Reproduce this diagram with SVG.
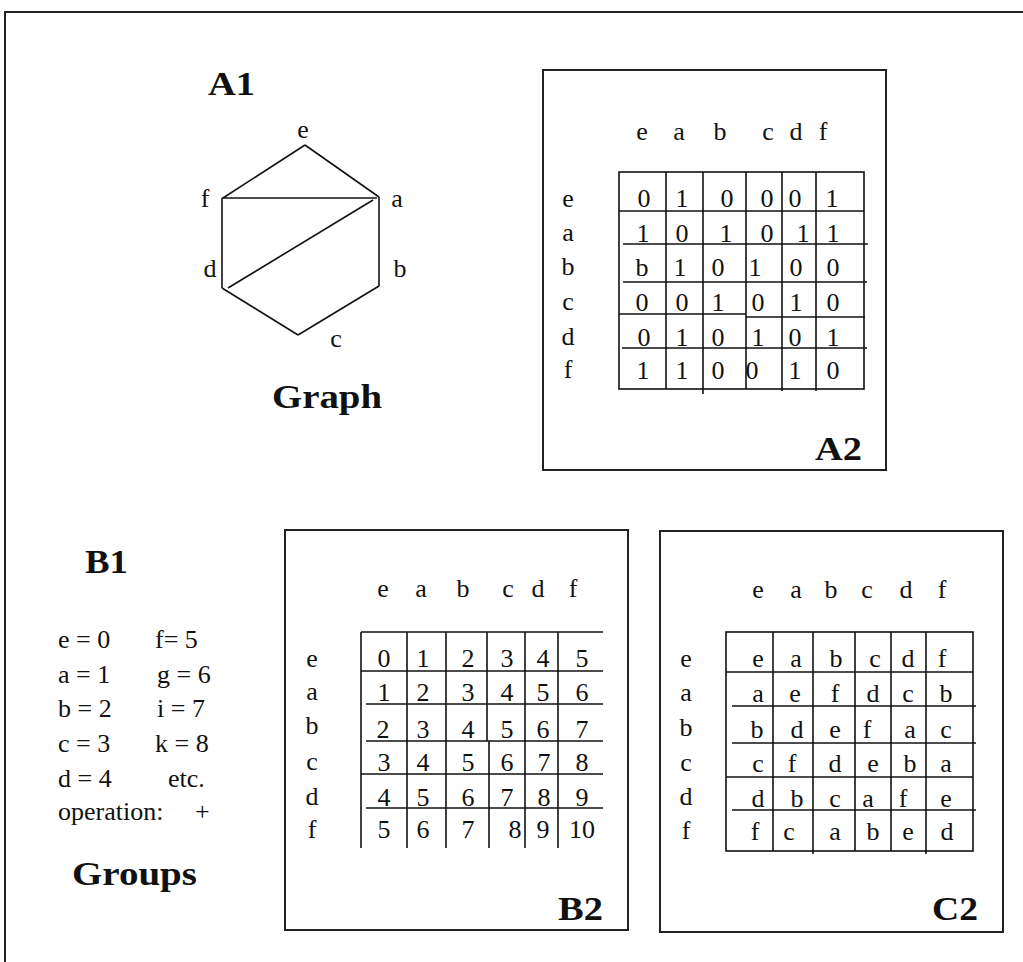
<svg xmlns="http://www.w3.org/2000/svg" width="1023" height="962" viewBox="0 0 1023 962">
  <style>
    .frame { fill: none; stroke: #222; stroke-width: 2; }
    .ln { fill: none; stroke: #111; stroke-width: 1.6; }
    .t { font-family: "Liberation Serif", "Times New Roman", serif; font-size: 26px; fill: #111; }
    .c { text-anchor: middle; }
    .h { font-family: "Liberation Serif", "Times New Roman", serif; font-size: 33px; font-weight: bold; fill: #111; }
  </style>

  <rect width="1023" height="962" fill="#fff"/>
  <!-- outer frame (runs off the right and bottom edges) -->
  <rect class="frame" x="5" y="12" width="1040" height="970"/>

  <!-- A1: the graph -->
  <g id="A1">
    <text class="h" x="208" y="95" textLength="47" lengthAdjust="spacingAndGlyphs">A1</text>
    <text class="h" x="272" y="408" textLength="110" lengthAdjust="spacingAndGlyphs">Graph</text>
    <g class="t c">
      <text x="303" y="138">e</text>
      <text x="205" y="207">f</text>
      <text x="397" y="207">a</text>
      <text x="210" y="277">d</text>
      <text x="400" y="277">b</text>
      <text x="336" y="347">c</text>
    </g>
  </g>

  <!-- graph edges -->
  <g id="edges" class="ln">
    <line x1="305" y1="145" x2="223" y2="198"/>
    <line x1="305" y1="145" x2="379" y2="197"/>
    <line x1="222" y1="198" x2="377" y2="198"/>
    <line x1="222" y1="198" x2="222" y2="288"/>
    <line x1="379" y1="197" x2="379" y2="286"/>
    <line x1="373" y1="200" x2="228" y2="288"/>
    <line x1="222" y1="288" x2="298" y2="335"/>
    <line x1="298" y1="335" x2="379" y2="286"/>
  </g>

  <!-- A2: adjacency matrix -->
  <g id="A2">
    <rect class="frame" x="543" y="70" width="343" height="400"/>
    <text class="h" x="815" y="460" textLength="47" lengthAdjust="spacingAndGlyphs">A2</text>
    <g class="t c">
      <text x="642" y="140">e</text><text x="679" y="140">a</text><text x="720" y="140">b</text>
      <text x="768" y="140">c</text><text x="796" y="140">d</text><text x="823" y="140">f</text>
      <text x="568" y="207">e</text><text x="568" y="241">a</text><text x="568" y="275">b</text>
      <text x="568" y="310">c</text><text x="568" y="345">d</text><text x="568" y="378">f</text>
    </g>
    <g class="ln">
      <rect x="619" y="172" width="245" height="217"/>
      <line x1="666" y1="172" x2="666" y2="389"/>
      <line x1="703" y1="172" x2="703" y2="394"/>
      <line x1="746" y1="172" x2="746" y2="389"/>
      <line x1="782" y1="172" x2="782" y2="391"/>
      <line x1="816" y1="172" x2="816" y2="391"/>
      <line x1="619" y1="211" x2="864" y2="211"/>
      <line x1="623" y1="244" x2="868" y2="244"/>
      <line x1="623" y1="282" x2="867" y2="282"/>
      <line x1="619" y1="314" x2="746" y2="314"/>
      <line x1="746" y1="317" x2="865" y2="317"/>
      <line x1="622" y1="348" x2="867" y2="348"/>
    </g>
    <g class="t c">
      <text x="644" y="207">0</text><text x="682" y="207">1</text><text x="727" y="207">0</text><text x="767" y="207">0</text><text x="795" y="207">0</text><text x="832" y="207">1</text>
      <text x="643" y="242">1</text><text x="682" y="242">0</text><text x="726" y="242">1</text><text x="767" y="242">0</text><text x="803" y="242">1</text><text x="833" y="242">1</text>
      <text x="642" y="276">b</text><text x="680" y="276">1</text><text x="718" y="276">0</text><text x="755" y="276">1</text><text x="796" y="276">0</text><text x="833" y="276">0</text>
      <text x="642" y="311">0</text><text x="682" y="311">0</text><text x="718" y="311">1</text><text x="758" y="311">0</text><text x="796" y="311">1</text><text x="833" y="311">0</text>
      <text x="644" y="346">0</text><text x="682" y="346">1</text><text x="718" y="346">0</text><text x="758" y="346">1</text><text x="795" y="346">0</text><text x="833" y="346">1</text>
      <text x="643" y="379">1</text><text x="682" y="379">1</text><text x="718" y="379">0</text><text x="752" y="379">0</text><text x="795" y="379">1</text><text x="833" y="379">0</text>
    </g>
  </g>

  <!-- B1: letters as numbers -->
  <g id="B1">
    <text class="h" x="85" y="573" textLength="43" lengthAdjust="spacingAndGlyphs">B1</text>
    <g class="t">
      <text x="58" y="648">e = 0</text><text x="155" y="648">f= 5</text>
      <text x="58" y="683">a = 1</text><text x="157" y="683">g = 6</text>
      <text x="58" y="717">b = 2</text><text x="157" y="717">i = 7</text>
      <text x="58" y="752">c = 3</text><text x="155" y="752">k = 8</text>
      <text x="58" y="787">d = 4</text><text x="168" y="787">etc.</text>
      <text x="58" y="820">operation:</text><text x="195" y="820">+</text>
    </g>
    <text class="h" x="72" y="885" textLength="125" lengthAdjust="spacingAndGlyphs">Groups</text>
  </g>

  <!-- B2: addition table -->
  <g id="B2">
    <rect class="frame" x="285" y="530" width="343" height="400"/>
    <text class="h" x="558" y="920" textLength="45" lengthAdjust="spacingAndGlyphs">B2</text>
    <g class="t c">
      <text x="383" y="597">e</text><text x="421" y="597">a</text><text x="463" y="597">b</text>
      <text x="508" y="597">c</text><text x="538" y="597">d</text><text x="573" y="597">f</text>
      <text x="312" y="667">e</text><text x="312" y="700">a</text><text x="312" y="734">b</text>
      <text x="312" y="770">c</text><text x="312" y="805">d</text><text x="312" y="838">f</text>
    </g>
    <g class="ln">
      <line x1="361" y1="632" x2="603" y2="632"/>
      <line x1="361" y1="632" x2="361" y2="848"/>
      <line x1="407" y1="632" x2="407" y2="848"/>
      <line x1="446" y1="632" x2="446" y2="848"/>
      <line x1="487" y1="632" x2="487" y2="741"/>
      <line x1="489" y1="741" x2="489" y2="848"/>
      <line x1="525" y1="632" x2="525" y2="848"/>
      <line x1="558" y1="632" x2="558" y2="848"/>
      <line x1="361" y1="671" x2="603" y2="671"/>
      <line x1="366" y1="704" x2="603" y2="704"/>
      <line x1="366" y1="741" x2="603" y2="741"/>
      <line x1="361" y1="774" x2="603" y2="774"/>
      <line x1="366" y1="808" x2="603" y2="808"/>
    </g>
    <g class="t c">
      <text x="384" y="667">0</text><text x="423" y="667">1</text><text x="468" y="667">2</text><text x="507" y="667">3</text><text x="543" y="667">4</text><text x="582" y="667">5</text>
      <text x="384" y="701">1</text><text x="423" y="701">2</text><text x="468" y="701">3</text><text x="507" y="701">4</text><text x="543" y="701">5</text><text x="582" y="701">6</text>
      <text x="383" y="738">2</text><text x="423" y="738">3</text><text x="468" y="738">4</text><text x="507" y="738">5</text><text x="543" y="738">6</text><text x="582" y="738">7</text>
      <text x="384" y="771">3</text><text x="423" y="771">4</text><text x="468" y="771">5</text><text x="507" y="771">6</text><text x="544" y="771">7</text><text x="582" y="771">8</text>
      <text x="384" y="806">4</text><text x="423" y="806">5</text><text x="468" y="806">6</text><text x="507" y="806">7</text><text x="544" y="806">8</text><text x="582" y="806">9</text>
      <text x="384" y="838">5</text><text x="423" y="838">6</text><text x="468" y="838">7</text><text x="515" y="838">8</text><text x="543" y="838">9</text><text x="582" y="838">10</text>
    </g>
  </g>

  <!-- C2: group table on letters -->
  <g id="C2">
    <rect class="frame" x="660" y="531" width="343" height="401"/>
    <text class="h" x="932" y="920" textLength="46" lengthAdjust="spacingAndGlyphs">C2</text>
    <g class="t c">
      <text x="758" y="598">e</text><text x="796" y="598">a</text><text x="831" y="598">b</text>
      <text x="867" y="598">c</text><text x="906" y="598">d</text><text x="942" y="598">f</text>
      <text x="686" y="667">e</text><text x="686" y="701">a</text><text x="686" y="736">b</text>
      <text x="686" y="771">c</text><text x="686" y="805">d</text><text x="686" y="839">f</text>
    </g>
    <g class="ln">
      <rect x="726" y="632" width="247" height="219"/>
      <line x1="773" y1="632" x2="773" y2="851"/>
      <line x1="813" y1="632" x2="813" y2="854"/>
      <line x1="855" y1="632" x2="855" y2="851"/>
      <line x1="891" y1="632" x2="891" y2="851"/>
      <line x1="926" y1="632" x2="926" y2="854"/>
      <line x1="726" y1="672" x2="973" y2="672"/>
      <line x1="732" y1="706" x2="976" y2="706"/>
      <line x1="732" y1="743" x2="976" y2="743"/>
      <line x1="726" y1="777" x2="973" y2="777"/>
      <line x1="732" y1="810" x2="976" y2="810"/>
    </g>
    <g class="t c">
      <text x="758" y="667">e</text><text x="796" y="667">a</text><text x="836" y="667">b</text><text x="875" y="667">c</text><text x="908" y="667">d</text><text x="942" y="667">f</text>
      <text x="758" y="702">a</text><text x="795" y="702">e</text><text x="835" y="702">f</text><text x="873" y="702">d</text><text x="908" y="702">c</text><text x="946" y="702">b</text>
      <text x="757" y="738">b</text><text x="797" y="738">d</text><text x="835" y="738">e</text><text x="867" y="738">f</text><text x="910" y="738">a</text><text x="946" y="738">c</text>
      <text x="758" y="772">c</text><text x="792" y="772">f</text><text x="835" y="772">d</text><text x="873" y="772">e</text><text x="910" y="772">b</text><text x="946" y="772">a</text>
      <text x="758" y="807">d</text><text x="797" y="807">b</text><text x="835" y="807">c</text><text x="868" y="807">a</text><text x="903" y="807">f</text><text x="946" y="807">e</text>
      <text x="755" y="840">f</text><text x="789" y="840">c</text><text x="835" y="840">a</text><text x="873" y="840">b</text><text x="908" y="840">e</text><text x="947" y="840">d</text>
    </g>
  </g>
</svg>
